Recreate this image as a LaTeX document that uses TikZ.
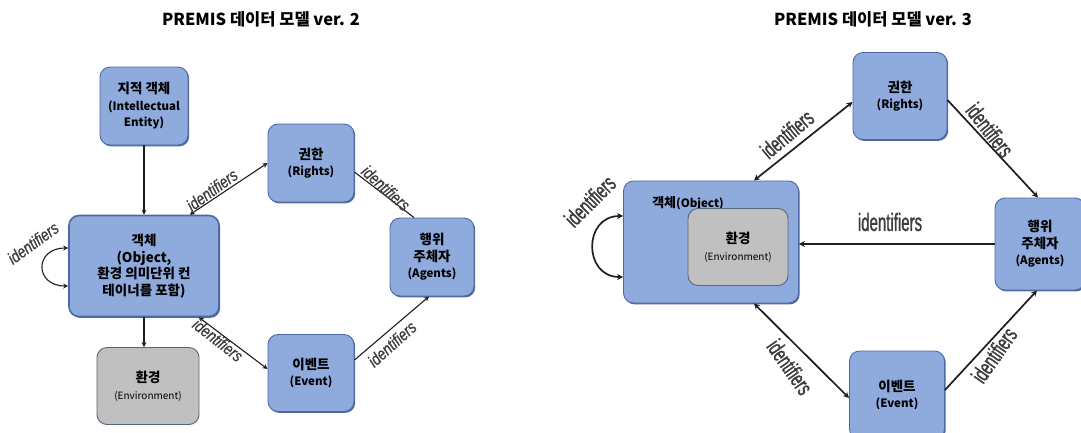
\documentclass[tikz,border=0pt]{standalone}
\usepackage{fontspec}
\setmainfont{Noto Sans CJK KR}
\newfontfamily\idfontL[FakeStretch=0.8, FakeBold=0.6]{Liberation Sans}
\newfontfamily\idfontR[FakeStretch=0.62, FakeBold=1.2]{Liberation Sans}
\newfontfamily\idfontH[FakeStretch=0.6, FakeBold=1.2]{Liberation Sans}
\usetikzlibrary{arrows.meta,shadows}

\definecolor{boxblue}{HTML}{8FAADC}
\definecolor{boxedge}{HTML}{4A69A5}
\definecolor{boxshade}{HTML}{3F5A8E}
\definecolor{envgray}{HTML}{C0C0C0}
\definecolor{envedge}{HTML}{55657E}
\definecolor{idgray}{HTML}{3C3C3C}
\definecolor{linegray}{HTML}{1E1E1E}

\tikzset{
  entity/.style={draw=boxedge, line width=0.9pt, fill=boxblue, rounded corners=10pt,
    align=center, inner sep=0pt, font=\bfseries\fontsize{13.5}{16.5}\selectfont,
    drop shadow={shadow xshift=1.2pt, shadow yshift=-1.4pt, fill=boxshade, opacity=0.9}},
  envbox/.style={draw=envedge, line width=0.9pt, fill=envgray, rounded corners=10pt,
    align=center, inner sep=0pt, font=\bfseries\fontsize{13.5}{17}\selectfont},
  linkL/.style={draw=linegray, line width=1.1pt},
  linkR/.style={draw=linegray, line width=1.7pt},
  tipL/.style={-{Stealth[length=5pt,width=5pt]}},
  tipsL/.style={{Stealth[length=5pt,width=5pt]}-{Stealth[length=5pt,width=5pt]}},
  tipR/.style={-{Stealth[length=6pt,width=6pt]}},
  tipsR/.style={{Stealth[length=6pt,width=6pt]}-{Stealth[length=6pt,width=6pt]}},
  idL/.style={text=idgray, inner sep=0pt, font=\idfontL\itshape\fontsize{17}{17}\selectfont},
  idR/.style={text=idgray, inner sep=0pt, font=\idfontR\fontsize{23}{23}\selectfont},
  idH/.style={text=idgray, inner sep=0pt, font=\idfontH\fontsize{25}{25}\selectfont},
  title/.style={font=\bfseries\fontsize{16.5}{18}\selectfont, inner sep=0pt}
}
\newcommand{\enl}[1]{{\fontsize{11.5}{14.5}\selectfont #1}}
\newcommand{\ens}[1]{{\mdseries\fontsize{10}{12}\selectfont #1}}

\begin{document}
\begin{tikzpicture}[x=1pt,y=-1pt]
\useasboundingbox (0,0) rectangle (1081,432);

% ---------- version 2 ----------
\node[title] (t2) at (261,19) {PREMIS 데이터 모델 ver. 2};

\node[entity, minimum width=88pt, minimum height=78pt] (ieL) at (144,106)
  {지적 객체\\\enl{(Intellectual}\\\enl{Entity)}};
\node[entity, minimum width=86pt, minimum height=78pt] (rightsL) at (311,163)
  {권한\\\enl{(Rights)}};
\node[entity, minimum width=150pt, minimum height=101pt, line width=1.6pt] (objL) at (144,266)
  {객체\\(Object,\\환경 의미단위 컨\\테이너를 포함)};
\node[entity, minimum width=84pt, minimum height=78pt] (agentsL) at (432,257)
  {행위\\주체자\\\enl{(Agents)}};
\node[envbox, minimum width=102pt, minimum height=77pt] (envL) at (148,386)
  {환경\\\ens{(Environment)}};
\node[entity, minimum width=86pt, minimum height=77pt] (eventL) at (311,373)
  {이벤트\\\enl{(Event)}};

\draw[linkL, tipL] (ieL) -- (objL);
\draw[linkL, tipL] (objL.south) -- (objL.south |- envL.north);
\draw[linkL, tipsL] ([xshift=-30pt]objL.north east) -- (rightsL.west);
\draw[linkL] ([yshift=-9pt]rightsL.east) -- ([xshift=-18pt]agentsL.north);
\draw[linkL, tipsL] ([xshift=-21pt]objL.south east) -- ([yshift=4pt]eventL.west);
\draw[linkL, tipL] ([yshift=13pt]eventL.east) -- ([xshift=-3pt]agentsL.south);
\draw[linkL, tipsL] ([yshift=18pt]objL.west) .. controls +(-34,0) and +(-34,0) .. ([yshift=-20pt]objL.west);

\node[idL, rotate=36] (lbl1) at (33,243) {identifiers};
\node[idL, rotate=36] (lbl2) at (212,190) {identifiers};
\node[idL, rotate=-42] (lbl3) at (386,188) {identifiers};
\node[idL, rotate=-38] (lbl4) at (218,340) {identifiers};
\node[idL, rotate=42] (lbl5) at (392,344) {identifiers};

% ---------- version 3 ----------
\node[title] (t3) at (873,19) {PREMIS 데이터 모델 ver. 3};

\node[entity, minimum width=94pt, minimum height=87pt] (rightsR) at (900,96)
  {권한\\\enl{(Rights)}};
\node[entity, minimum width=175pt, minimum height=122pt] (objR) at (711,242) {};
\node[font=\bfseries\fontsize{13}{15}\selectfont, inner sep=0pt] (objRlbl) at (688,203) {객체\enl{(Object)}};
\node[envbox, minimum width=100pt, minimum height=77pt] (envR) at (738,247)
  {환경\\\ens{(Environment)}};
\node[entity, minimum width=90pt, minimum height=92pt] (agentsR) at (1040,244)
  {행위\\주체자\\\enl{(Agents)}};
\node[entity, minimum width=95pt, minimum height=88pt] (eventR) at (897,395)
  {이벤트\\\enl{(Event)}};

\draw[linkR, tipsR] ([xshift=-45pt]objR.north east) -- ([yshift=-6pt]rightsR.west);
\draw[linkR, tipR] ([yshift=-4pt]rightsR.east) -- ([xshift=-2pt]agentsR.north);
\draw[linkR, tipR] (agentsR.west) -- (agentsR.west -| objR.east);
\draw[linkR, tipsR] ([xshift=-45pt]objR.south east) -- ([yshift=-3pt]eventR.west);
\draw[linkR, tipR] ([yshift=5pt]eventR.east) -- ([xshift=-3pt]agentsR.south);
\draw[linkR, tipsR] ([yshift=26pt]objR.west) .. controls +(-40,0) and +(-40,0) .. ([yshift=-35pt]objR.west);

\node[idR, rotate=45] (lbl6) at (590,201) {identifiers};
\node[idR, rotate=40] (lbl7) at (787,134) {identifiers};
\node[idR, rotate=-52] (lbl8) at (990,130) {identifiers};
\node[idH] (lbl9) at (890,222) {identifiers};
\node[idR, rotate=-55] (lbl10) at (790,367) {identifiers};
\node[idR, rotate=55] (lbl11) at (994,355) {identifiers};
\end{tikzpicture}
\end{document}
